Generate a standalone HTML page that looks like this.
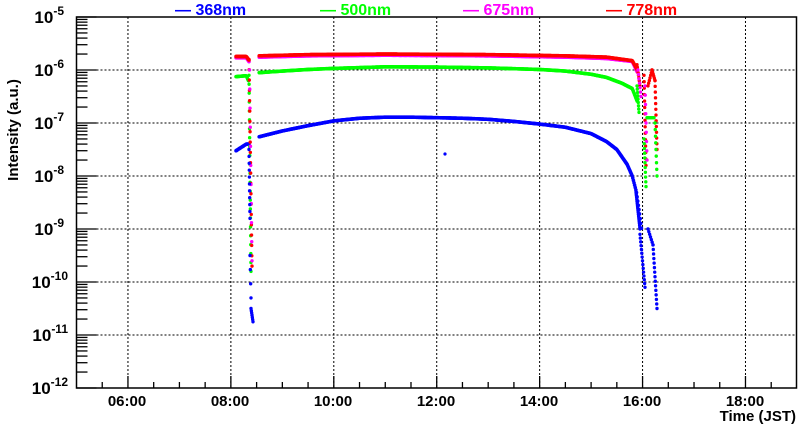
<!DOCTYPE html>
<html><head><meta charset="utf-8"><style>
body{margin:0;background:#fff;width:800px;height:427px;overflow:hidden;font-family:"Liberation Sans",Arial,sans-serif}
svg{position:absolute;left:0;top:0}
text{font-family:"Liberation Sans",Arial,sans-serif;font-weight:bold}
</style></head><body>
<svg id="s" width="800" height="427" xmlns="http://www.w3.org/2000/svg">
<g id="grid" stroke="#000" stroke-width="1" stroke-dasharray="2,2"></g>
<g id="data"></g>
<rect x="76.5" y="17" width="720" height="371" fill="none" stroke="#000" stroke-width="1.5"/>
<g id="ticks" stroke="#000" stroke-width="1.3"></g>
<g font-size="17" text-anchor="end">
<text x="64" y="23">10<tspan dy="-8" font-size="12">-5</tspan></text>
<text x="64" y="76">10<tspan dy="-8" font-size="12">-6</tspan></text>
<text x="64" y="129">10<tspan dy="-8" font-size="12">-7</tspan></text>
<text x="64" y="182">10<tspan dy="-8" font-size="12">-8</tspan></text>
<text x="64" y="235">10<tspan dy="-8" font-size="12">-9</tspan></text>
<text x="68" y="288">10<tspan dy="-8" font-size="12">-10</tspan></text>
<text x="68" y="341">10<tspan dy="-8" font-size="12">-11</tspan></text>
<text x="68" y="394">10<tspan dy="-8" font-size="12">-12</tspan></text>
</g>
<g font-size="15" text-anchor="middle">
<text x="127" y="406">06:00</text><text x="230" y="406">08:00</text><text x="333" y="406">10:00</text>
<text x="436" y="406">12:00</text><text x="539" y="406">14:00</text><text x="642" y="406">16:00</text>
<text x="745" y="406">18:00</text>
</g>
<text x="796" y="421" font-size="15" text-anchor="end">Time (JST)</text>
<text transform="translate(18,130) rotate(-90)" font-size="15" text-anchor="middle">Intensity (a.u.)</text>
<g font-size="16">
<text x="175" y="15" fill="#0000ff">— 368nm</text>
<text x="320" y="15" fill="#00ff00">— 500nm</text>
<text x="463" y="15" fill="#ff00ff">— 675nm</text>
<text x="606" y="15" fill="#ff0000">— 778nm</text>
</g>
</svg>
<script>
var NS="http://www.w3.org/2000/svg";
function X(t){return 76.5+(t-5)*51.46}
function Y(l){return 17+(-5-l)*53}
function el(p,n,a){var e=document.createElementNS(NS,n);for(var k in a)e.setAttribute(k,a[k]);document.getElementById(p).appendChild(e)}
for(var h=6;h<=18;h+=2)el("grid","line",{x1:X(h),x2:X(h),y1:17,y2:388});
for(var d=-6;d>=-11;d--)el("grid","line",{x1:76.5,x2:796,y1:Y(d),y2:Y(d)});
for(var h=5.5;h<19;h+=0.5){var big=(h%2==0);el("ticks","line",{x1:X(h),x2:X(h),y1:388,y2:388-(big?12:6)});}
for(var d=-5;d>-12;d--)for(var m=1;m<10;m++){var l=(m==1)?d:d-1+Math.log10(m);el("ticks","line",{x1:76.5,x2:76.5+(m==1?20:11),y1:Y(l),y2:Y(l)});}
el("ticks","line",{x1:76.5,x2:96.5,y1:Y(-12),y2:Y(-12)});
function interp(pts,t){for(var i=0;i<pts.length-1;i++){if(t>=pts[i][0]&&t<=pts[i+1][0]){var f=(t-pts[i][0])/(pts[i+1][0]-pts[i][0]);return pts[i][1]+f*(pts[i+1][1]-pts[i][1]);}}return null}
function L(v){return Math.log10(v)}
var series={
"#0000ff":[[[8.1,L(3e-8)],[8.3,L(4e-8)],[8.36,L(4e-8)]],[[8.55,-7.26],[9,-7.15],[9.5,-7.05],[10,-6.96],[10.5,-6.91],[11,-6.89],[11.5,-6.89],[12,-6.9],[12.5,-6.91],[13,-6.93],[13.5,-6.97],[14,-7.02],[14.5,-7.08],[15,-7.2],[15.3,-7.35],[15.5,-7.5],[15.7,-7.78],[15.8,-8.0],[15.88,-8.3],[15.94,-8.7],[15.98,-9.0]]],
"#00ff00":[[[8.1,L(7.5e-7)],[8.3,L(7.8e-7)],[8.35,L(6e-7)]],[[8.55,-6.05],[9,-6.02],[9.5,-5.99],[10,-5.97],[11,-5.94],[12,-5.945],[13,-5.96],[14,-5.99],[14.5,-6.02],[15,-6.08],[15.3,-6.14],[15.6,-6.25],[15.8,-6.35],[15.9,-6.6]]],
"#ff00ff":[[[8.1,L(1.7e-6)],[8.3,L(1.7e-6)],[8.36,L(1.4e-6)]],[[8.55,L(1.75e-6)],[9.5,L(1.85e-6)],[11,L(1.9e-6)],[13,L(1.85e-6)],[14.5,L(1.75e-6)],[15.3,L(1.65e-6)],[15.8,L(1.45e-6)],[15.9,L(9e-7)]]],
"#ff0000":[[[8.1,L(1.8e-6)],[8.3,L(1.8e-6)],[8.36,L(1.5e-6)]],[[8.55,L(1.85e-6)],[9.5,L(1.95e-6)],[11,L(2e-6)],[13,L(1.95e-6)],[14.5,L(1.85e-6)],[15.3,L(1.75e-6)],[15.8,L(1.5e-6)],[15.9,L(1e-6)]]]};
for(var c in series){series[c].forEach(function(p){for(var t=p[0][0];t<=p[p.length-1][0];t+=0.012){var v=interp(p,t);if(v!==null)el("data","circle",{cx:X(t),cy:Y(v),r:1.8,fill:c});}});}
function drop(c,x0,x1,l0,l1,n){for(var i=0;i<=n;i++){var f=i/n;el("data","circle",{cx:x0+(x1-x0)*f,cy:Y(l0+(l1-l0)*f),r:1.7,fill:c});}}
drop("#00ff00",249,251,-6.1,-9.8,22);drop("#ff0000",249,252,-5.8,-9.7,20);drop("#ff00ff",249.5,252,-6,-9.6,10);
drop("#0000ff",249,250,-7.5,-8.8,10);drop("#0000ff",250,251,-9.5,-10.3,3);drop("#0000ff",251,253,-10.5,-10.75,6);
el("data","circle",{cx:445,cy:154,r:1.6,fill:"#0000ff"});
drop("#ff0000",637,640,-5.9,-6.3,8);drop("#ff00ff",638,641,-6,-6.5,6);
drop("#ff0000",644,646,-6.1,-7.8,14);drop("#ff00ff",645,647,-6.3,-7.7,8);
drop("#ff0000",648,652,-6.3,-6,6);drop("#ff0000",652,655,-6,-6.2,5);drop("#ff0000",655,657,-6.2,-7.5,12);
drop("#00ff00",637,639,-6.3,-6.8,8);drop("#00ff00",644,646,-7.3,-8.2,10);drop("#00ff00",647,654,-6.9,-6.9,6);drop("#00ff00",655,657,-7,-8.0,8);
drop("#0000ff",636,640,-8.3,-9.0,20);drop("#0000ff",640,645,-9.1,-10.1,14);drop("#0000ff",648,653,-9.0,-9.3,6);drop("#0000ff",653,657,-9.3,-10.5,14);
</script>
</body></html>
